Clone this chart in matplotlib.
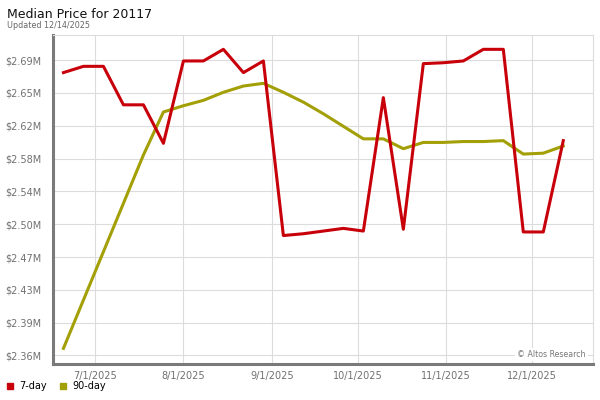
import numpy as np
import pandas as pd
import matplotlib
matplotlib.use("Agg")
import matplotlib.pyplot as plt
import matplotlib.dates as mdates
from matplotlib.lines import Line2D

# ── data (median price, $M), weekly ─────────────────────────────────────────
dates = pd.date_range("2025-06-20", periods=26, freq="7D")

price_7day = [2.676, 2.683, 2.683, 2.640, 2.640, 2.597, 2.689, 2.689, 2.702,
              2.676, 2.689, 2.494, 2.496, 2.499, 2.502, 2.499, 2.648, 2.501,
              2.686, 2.687, 2.689, 2.702, 2.702, 2.498, 2.498, 2.600]

price_90day = [2.368, 2.422, 2.476, 2.530, 2.584, 2.632, 2.639, 2.645, 2.654,
               2.661, 2.664, 2.654, 2.643, 2.630, 2.616, 2.602, 2.602, 2.591,
               2.598, 2.598, 2.599, 2.599, 2.600, 2.585, 2.586, 2.594]

ytick_vals = np.linspace(2.36, 2.69, 10)
ytick_labels = ["$2.36M", "$2.39M", "$2.43M", "$2.47M", "$2.50M",
                "$2.54M", "$2.58M", "$2.62M", "$2.65M", "$2.69M"]

RED = "#c8000a"
OLIVE = "#a39f06"

# ── figure ─────────────────────────────────────────────────────────────────
fig = plt.figure(figsize=(6, 4), dpi=100)
ax = fig.add_axes([0.0883, 0.09, 0.9005, 0.8225])

ax.plot(dates, price_90day, color=OLIVE, linewidth=2.2, zorder=3)
ax.plot(dates, price_7day, color=RED, linewidth=2.2, zorder=4)

ax.set_xlim(pd.Timestamp("2025-06-16 08:00"), pd.Timestamp("2025-12-22 12:00"))
ax.set_ylim(2.3505, 2.718)

ax.set_yticks(ytick_vals)
ax.set_yticklabels(ytick_labels)
ax.xaxis.set_major_locator(mdates.MonthLocator())
ax.xaxis.set_major_formatter(plt.FuncFormatter(
    lambda v, pos: (lambda d: f"{d.month}/{d.day}/{d.year}")(mdates.num2date(v))))

ax.tick_params(axis="both", length=0, labelsize=7, labelcolor="#707070")
ax.tick_params(axis="y", pad=8)
ax.tick_params(axis="x", pad=5)
ax.grid(True, color="#dcdcdc", linewidth=0.8)
ax.set_axisbelow(True)

for side in ("top", "right"):
    ax.spines[side].set_color("#dcdcdc")
    ax.spines[side].set_linewidth(0.8)
for side in ("left", "bottom"):
    ax.spines[side].set_color("#7a7a7a")
    ax.spines[side].set_linewidth(2.2)

ax.text(0.986, 0.03, "© Altos Research", transform=ax.transAxes,
        ha="right", va="center", fontsize=5.7, color="#777777",
        bbox=dict(facecolor="white", edgecolor="none", pad=1.5), zorder=5)

# titles
fig.text(0.011, 0.955, "Median Price for 20117", fontsize=9, color="#111111",
         ha="left", va="baseline")
fig.text(0.011, 0.931, "Updated 12/14/2025", fontsize=5.8, color="#666666",
         ha="left", va="baseline")

# legend
handles = [Line2D([], [], linestyle="none", marker="s", markersize=4.5,
                  color=RED, label="7-day"),
           Line2D([], [], linestyle="none", marker="s", markersize=4.5,
                  color=OLIVE, label="90-day")]
fig.legend(handles=handles, loc="lower left", bbox_to_anchor=(-0.005, 0.0),
           ncol=2, frameon=False, fontsize=7, handlelength=0.8,
           handletextpad=0.6, columnspacing=1.2)

fig.savefig("out.png", dpi=100)
